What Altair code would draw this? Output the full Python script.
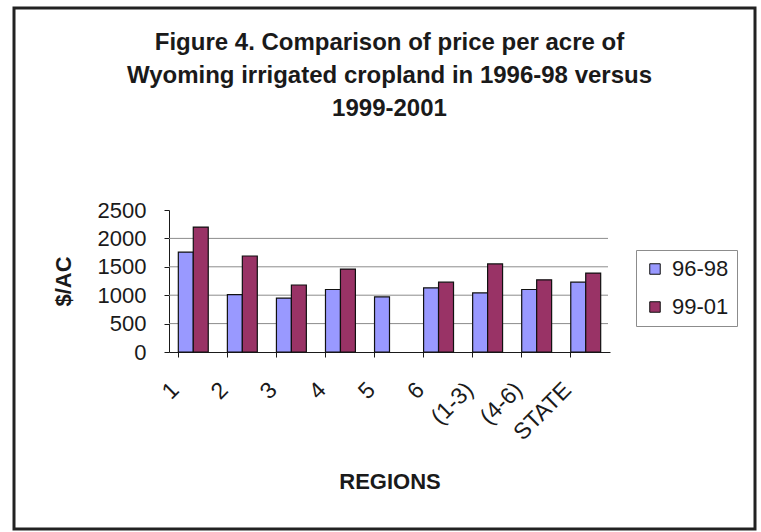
import altair as alt
import pandas as pd

# Wyoming irrigated cropland, price per acre by region
regions = ["1", "2", "3", "4", "5", "6", "(1-3)", "(4-6)", "STATE"]
price_96_98 = [1760, 1010, 950, 1100, 970, 1130, 1040, 1100, 1230]
price_99_01 = [2200, 1690, 1180, 1460, None, 1230, 1550, 1270, 1390]
series_names = ["96-98", "99-01"]
series_colors = ["#9999FF", "#993366"]
y_ticks = [0, 500, 1000, 1500, 2000, 2500]
grid_values = [500, 1000, 1500, 2000]
title_lines = [
    "Figure 4. Comparison of price per acre of",
    "Wyoming irrigated cropland in 1996-98 versus",
    "1999-2001",
]

rows = []
for region, a, b in zip(regions, price_96_98, price_99_01):
    for name, value in zip(series_names, (a, b)):
        if value is not None:
            rows.append({"region": region, "period": name, "price": value})
df = pd.DataFrame(rows)
grid_df = pd.DataFrame({"price": grid_values})

FONT = "Liberation Sans"
INK = "#1a1a1a"
W, H = 441, 142

y_scale = alt.Scale(domain=[0, 2500], nice=False)
y_axis = alt.Axis(
    title="$/AC",
    values=y_ticks,
    format="d",
    grid=False,
    labelFontSize=22,
    labelFont=FONT,
    labelColor=INK,
    labelPadding=18,
    tickSize=5,
    tickColor=INK,
    domainColor=INK,
    titleFont=FONT,
    titleFontSize=22,
    titleFontWeight="bold",
    titleColor=INK,
    titlePadding=22,
)

gridlines = alt.Chart(grid_df).mark_rule(color="#8c8c8c", strokeWidth=1).encode(
    y=alt.Y("price:Q", scale=y_scale, axis=y_axis),
    x=alt.value(0),
    x2=alt.value(W - 2),
)

bars = alt.Chart(df).mark_bar(stroke="#111111", strokeWidth=1.2).encode(
    x=alt.X(
        "region:N",
        sort=regions,
        scale=alt.Scale(paddingInner=0.39, paddingOuter=0.19),
        axis=alt.Axis(
            title="REGIONS",
            labelAngle=-45,
            labelAlign="right",
            labelBaseline="middle",
            bandPosition=0,
            labelOffset=-18,
            labelPadding=29,
            labelFontSize=23,
            labelFont=FONT,
            labelColor=INK,
            tickSize=5,
            tickColor=INK,
            domainColor=INK,
            titleFont=FONT,
            titleFontSize=22,
            titleFontWeight="bold",
            titleColor=INK,
            titlePadding=27,
        ),
    ),
    xOffset=alt.XOffset("period:N", sort=series_names),
    y=alt.Y("price:Q", scale=y_scale, axis=y_axis),
    color=alt.Color(
        "period:N",
        sort=series_names,
        scale=alt.Scale(domain=series_names, range=series_colors),
        legend=alt.Legend(
            title=None,
            orient="none",
            legendX=467,
            legendY=40,
            symbolType="square",
            symbolSize=110,
            symbolStrokeColor="#111111",
            symbolStrokeWidth=1,
            symbolOpacity=1,
            labelFont=FONT,
            labelFontSize=22,
            labelColor=INK,
            labelOffset=6,
            rowPadding=16,
            padding=8,
            strokeColor="#8c8c8c",
            fillColor="white",
        ),
    ),
)

# outer border drawn around the whole figure
frame = alt.Chart(alt.Data(values=[{}])).mark_rect(
    fill="transparent", stroke="#222222", strokeWidth=3
).encode(
    x=alt.value(-155),
    x2=alt.value(586),
    y=alt.value(-202),
    y2=alt.value(319),
)

chart = (
    alt.layer(gridlines, bars, frame)
    .properties(
        width=W,
        height=H,
        title=alt.TitleParams(
            text=title_lines,
            font=FONT,
            fontSize=24,
            fontWeight="bold",
            color=INK,
            lineHeight=33,
            anchor="middle",
            offset=-114,
        ),
        autosize=alt.AutoSizeParams(type="none"),
        padding={"left": 169, "top": 210, "right": 151, "bottom": 180},
    )
    .configure(background="white", view=alt.ViewConfig(stroke="transparent"))
)

chart.save("out.html", embed_options={"renderer": "svg", "actions": False})
